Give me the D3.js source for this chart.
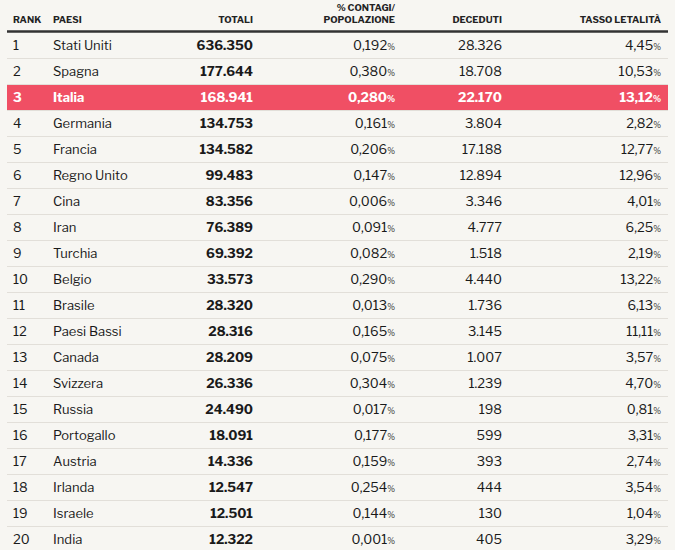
<!DOCTYPE html>
<html>
<head>
<meta charset="utf-8">
<script src="https://cdn.jsdelivr.net/npm/d3@7"></script>
<style>
    body { margin: 0; background: #f7f6f2; }
    svg { display: block; }
</style>
</head>
<body>
<div id="table_pane"></div>
<script>
const ranks = [1, 2, 3, 4, 5, 6, 7, 8, 9, 10, 11, 12, 13, 14, 15, 16, 17, 18, 19, 20];
const countries = ["Stati Uniti", "Spagna", "Italia", "Germania", "Francia", "Regno Unito", "Cina", "Iran",
    "Turchia", "Belgio", "Brasile", "Paesi Bassi", "Canada", "Svizzera", "Russia", "Portogallo",
    "Austria", "Irlanda", "Israele", "India"];
const totals = [636350, 177644, 168941, 134753, 134582, 99483, 83356, 76389, 69392, 33573,
    28320, 28316, 28209, 26336, 24490, 18091, 14336, 12547, 12501, 12322];
const pct_population = [0.192, 0.380, 0.280, 0.161, 0.206, 0.147, 0.006, 0.091, 0.082, 0.290,
    0.013, 0.165, 0.075, 0.304, 0.017, 0.177, 0.159, 0.254, 0.144, 0.001];
const deaths = [28326, 18708, 22170, 3804, 17188, 12894, 3346, 4777, 1518, 4440,
    1736, 3145, 1007, 1239, 198, 599, 393, 444, 130, 405];
const lethality = [4.45, 10.53, 13.12, 2.82, 12.77, 12.96, 4.01, 6.25, 2.19, 13.22,
    6.13, 11.11, 3.57, 4.70, 0.81, 3.31, 2.74, 3.54, 1.04, 3.29];
const highlighted = "Italia";

const width = 675, height = 550;
const font = "'Libre Franklin', 'Inter', 'Roboto', sans-serif";

const it = d3.formatLocale({ decimal: ",", thousands: ".", grouping: [3], currency: ["€", ""] });
const fmtInt = it.format(",d");
const fmt3 = it.format(".3f");
const fmt2 = it.format(".2f");

// column definitions: key -> x anchor
const columns = [
    { head: ["RANK"], x: 13, anchor: "start" },
    { head: ["PAESI"], x: 53, anchor: "start" },
    { head: ["TOTALI"], x: 253, anchor: "end" },
    { head: ["% CONTAGI/", "POPOLAZIONE"], x: 395, anchor: "end" },
    { head: ["DECEDUTI"], x: 502, anchor: "end" },
    { head: ["TASSO LETALITÀ"], x: 661, anchor: "end" }
];

const rows = ranks.map((r, i) => ({
    rank: r, country: countries[i], total: totals[i], pct: pct_population[i],
    deaths: deaths[i], lethality: lethality[i]
}));

const svg = d3.select("#table_pane")
    .append("svg")
    .attr("width", width)
    .attr("height", height);

svg.append("rect")
    .attr("width", width).attr("height", height)
    .attr("fill", "#f7f6f2");

const y = d3.scaleBand()
    .domain(ranks)
    .range([32, 552])
    .padding(0);

// header
const header = svg.append("g").attr("font-family", font)
    .attr("font-size", 9.5).attr("font-weight", 700).attr("fill", "#222");

columns.forEach(c => {
    c.head.forEach((h, j) => {
        header.append("text")
            .attr("x", c.x)
            .attr("y", 23 - (c.head.length - 1 - j) * 12)
            .attr("text-anchor", c.anchor)
            .text(h);
    });
});

// highlight band
svg.append("rect")
    .attr("x", 7)
    .attr("y", y(ranks[countries.indexOf(highlighted)]))
    .attr("width", 661)
    .attr("height", y.bandwidth())
    .attr("fill", "#f04f64");

// row separators
svg.append("g")
    .selectAll("line")
    .data(ranks.slice(1))
    .join("line")
    .attr("x1", 7).attr("x2", 668)
    .attr("y1", d => y(d) + 0.5).attr("y2", d => y(d) + 0.5)
    .attr("stroke", "#e2dfd9")
    .attr("stroke-width", 1);

svg.append("line")
    .attr("x1", 7).attr("x2", 668)
    .attr("y1", 31.5).attr("y2", 31.5)
    .attr("stroke", "#333")
    .attr("stroke-width", 2.5);

// body
const body = svg.append("g").attr("font-family", font).attr("font-size", 13);

const row_groups = body.selectAll("g.row")
    .data(rows)
    .join("g")
    .attr("class", "row")
    .attr("transform", d => `translate(0, ${y(d.rank) + y.bandwidth() / 2 + 4.5})`)
    .attr("fill", d => d.country === highlighted ? "#fff" : "#1a1a1a")
    .attr("font-weight", d => d.country === highlighted ? 700 : 400);

row_groups.append("text").attr("x", columns[0].x).text(d => d.rank);
row_groups.append("text").attr("x", columns[1].x).text(d => d.country);
row_groups.append("text").attr("x", columns[2].x).attr("text-anchor", "end")
    .attr("font-weight", 700).text(d => fmtInt(d.total));

const pct_text = row_groups.append("text").attr("x", columns[3].x).attr("text-anchor", "end");
pct_text.append("tspan").text(d => fmt3(d.pct));
pct_text.append("tspan").attr("font-size", 8.5).text("%");

row_groups.append("text").attr("x", columns[4].x).attr("text-anchor", "end")
    .text(d => fmtInt(d.deaths));

const let_text = row_groups.append("text").attr("x", columns[5].x).attr("text-anchor", "end");
let_text.append("tspan").text(d => fmt2(d.lethality));
let_text.append("tspan").attr("font-size", 8.5).text("%");
</script>
</body>
</html>
